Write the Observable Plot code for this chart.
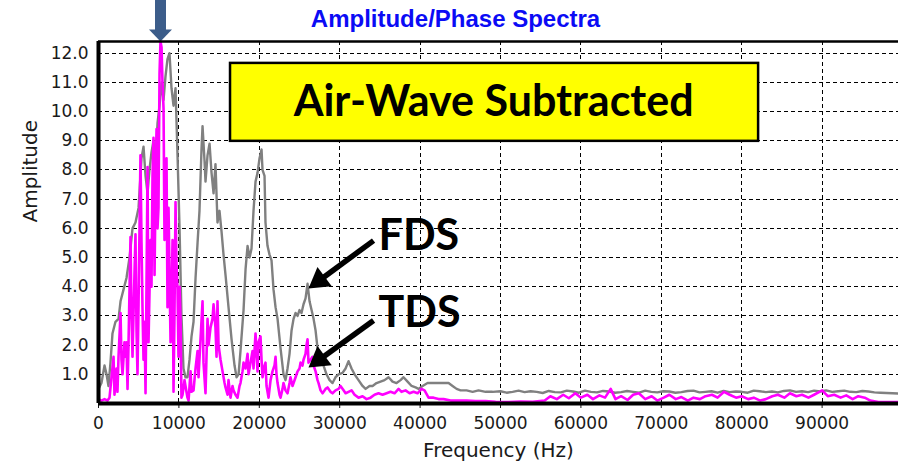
<!DOCTYPE html>
<html>
<head>
<meta charset="utf-8">
<script src="https://cdn.jsdelivr.net/npm/d3@7"></script>
<script src="https://cdn.jsdelivr.net/npm/@observablehq/plot@0.6"></script>
<style>
  html, body { margin: 0; padding: 0; background: #fff; }
  #chart svg { display: block; }
</style>
</head>
<body>
<div id="chart"></div>
<script>
// Axis ticks
const xTicks = [0, 10000, 20000, 30000, 40000, 50000, 60000, 70000, 80000, 90000];
const yTicks = [1, 2, 3, 4, 5, 6, 7, 8, 9, 10, 11, 12];

// FDS spectrum (grey): frequency in Hz, amplitude
const fdsFreq = [
  0, 370, 750, 1000, 1240, 1490, 1740, 2110, 2490, 2740, 3110, 3480, 3860, 4230, 4600, 4980,
  5350, 5600, 5850, 6100, 6340, 6590, 6840, 7090, 7340, 7590, 7840, 8090, 8330, 8580, 8830,
  9080, 9330, 9580, 9830, 10080, 10320, 10570, 10820, 11070, 11320, 11570, 11820, 12070, 12320,
  12560, 12810, 12940, 13190, 13310, 13560, 13810, 14060, 14310, 14550, 14800, 15050, 15300,
  15550, 15800, 16170, 16550, 16920, 17170, 17420, 17660, 18040, 18290, 18540, 18790, 19030,
  19280, 19530, 19780, 20030, 20280, 20400, 20650, 20770, 21020, 21270, 21520, 21770, 22020,
  22270, 22640, 23010, 23260, 23510, 23760, 24010, 24260, 24510, 24760, 25000, 25250, 25500,
  25750, 26000, 26250, 26500, 26750, 27000, 27240, 27620, 27990, 28360, 28740, 29110, 29480,
  29860, 30350, 30730, 31100, 31470, 31850, 32340, 32840, 33220, 33710, 34090, 34580, 35080,
  35580, 36080, 36570, 37070, 37570, 37940, 38440, 38940, 39430, 39810, 40310, 40930, 41550,
  42170, 42790, 43540, 44040, 44540, 45030, 45780, 46530, 47270, 48140, 49010,
  50000, 50750, 51500, 52250, 53000, 53750, 54500, 55250, 56000, 56750, 57500, 58250, 59000,
  59750, 60500, 61250, 62000, 62750, 63500, 64250, 65000, 65750, 66500, 67250, 68000, 68750,
  69500, 70250, 71000, 71750, 72500, 73250, 74000, 74750, 75500, 76250, 77000, 77750, 78500,
  79250, 80000, 80750, 81500, 82250, 83000, 83750, 84500, 85250, 86000, 86750, 87500, 88250,
  89000, 89750, 90500, 91250, 92000, 92750, 93500, 94250, 95000, 95750, 96500, 97250, 98000,
  98750, 99500
];
const fdsAmp = [
  0.5, 0.7, 1.3, 1.0, 0.6, 1.4, 2.4, 2.8, 2.9, 3.5, 3.9, 4.3, 5.0, 6.0, 6.2, 6.7,
  8.4, 8.8, 7.8, 7.2, 8.0, 8.6, 9.0, 8.2, 9.6, 10.2, 11.0, 10.4, 11.2, 11.8, 12.0,
  10.8, 10.2, 10.8, 8.5, 6.0, 3.0, 1.2, 0.9, 0.9, 1.5, 2.3, 2.8, 4.3, 5.5,
  6.6, 8.7, 9.5, 8.3, 7.6, 8.5, 8.9, 7.9, 7.2, 8.2, 6.2, 6.6, 5.9,
  5.1, 4.4, 3.3, 2.2, 1.3, 0.9, 1.0, 1.8, 3.2, 4.6, 5.4, 5.0, 5.3,
  6.6, 7.6, 7.9, 8.4, 8.7, 8.0, 7.8, 6.2, 5.4, 5.1, 4.9, 3.9, 3.3,
  2.9, 1.9, 1.0, 0.8, 1.2, 1.7, 2.5, 2.9, 3.1, 3.0, 3.2, 3.1, 3.4,
  3.6, 4.1, 3.5, 3.2, 2.9, 2.5, 1.9, 1.5, 1.3, 1.0, 0.8, 0.7, 0.9,
  1.0, 1.05, 1.2, 1.45, 1.2, 1.0, 0.8, 0.6, 0.5, 0.6, 0.6, 0.7, 0.75,
  0.8, 0.9, 0.75, 0.7, 0.8, 0.9, 0.75, 0.6, 0.55, 0.5, 0.6, 0.7, 0.7,
  0.7, 0.7, 0.7, 0.6, 0.5, 0.45, 0.45, 0.4, 0.45, 0.4, 0.4,
  0.42, 0.37, 0.40, 0.44, 0.39, 0.42, 0.40, 0.36, 0.43, 0.39, 0.38, 0.44, 0.41,
  0.37, 0.44, 0.40, 0.38, 0.43, 0.41, 0.37, 0.39, 0.43, 0.40, 0.37, 0.44, 0.40,
  0.38, 0.42, 0.41, 0.37, 0.39, 0.43, 0.44, 0.38, 0.40, 0.42, 0.37, 0.43, 0.39,
  0.41, 0.40, 0.37, 0.44, 0.42, 0.39, 0.41, 0.38, 0.43, 0.45, 0.40, 0.42, 0.39,
  0.44, 0.41, 0.45, 0.40, 0.42, 0.44, 0.40, 0.39, 0.43, 0.41, 0.38, 0.37, 0.36,
  0.35, 0.34
];

// TDS spectrum (magenta): frequency in Hz, amplitude
const tdsFreq = [
  0, 370, 750, 1120, 1370, 1620, 1870, 1990, 2240, 2360, 2490, 2740, 2860, 2990, 3230, 3360,
  3480, 3610, 3730, 3980, 4110, 4230, 4480, 4600, 4730, 4850, 4980, 5220, 5350, 5470, 5600,
  5720, 5850, 5970, 6100, 6220, 6470, 6590, 6720, 6840, 6970, 7090, 7220, 7340, 7460, 7590,
  7710, 7840, 7960, 8090, 8210, 8330, 8460, 8580, 8710, 8830, 8960, 9080, 9210, 9330, 9450,
  9580, 9700, 9830, 9950, 10080, 10200, 10320, 10450, 10700, 10820, 11070, 11200, 11450, 11570,
  11820, 12070, 12320, 12440, 12690, 12940, 13060, 13310, 13560, 13690, 13930, 14180, 14310,
  14550, 14680, 14800, 14930, 15180, 15430, 15680, 15800, 16050, 16170, 16420, 16670, 16790,
  17040, 17290, 17540, 17660, 17910, 18040, 18290, 18540, 18660, 18910, 19160, 19280, 19530,
  19780, 19900, 20150, 20280, 20400, 20650, 20770, 20900, 21150, 21400, 21640, 21890, 22020,
  22140, 22270, 22520, 22640, 22890, 23010, 23260, 23510, 23760, 23880, 24130, 24260, 24510,
  24760, 25000, 25130, 25370, 25500, 25750, 25870, 26000, 26120, 26370, 26620, 26750, 27000,
  27240, 27370, 27620, 27870, 28240, 28490, 28860, 29110, 29480, 29860, 30100, 30480, 30730,
  31100, 31470, 31850, 32340, 32840, 33340, 33840, 34330, 34830, 35330, 35830, 36320, 36820,
  37320, 37690, 38190, 38690, 39190, 39680, 40180, 40550, 41050, 41670, 42300, 42920, 43790,
  44780, 45780, 46900, 48140, 49390,
  51000, 52500, 54000, 55500, 56200, 57000, 57800, 58500, 59300, 60000, 60800, 61500, 62300,
  63000, 63700, 64300, 65000, 65800, 66500, 67200, 68000, 68800, 69500, 70300, 71000, 71800,
  72500, 73300, 74000, 74800, 75500, 76300, 77000, 77800, 78500, 79300, 80000, 80800, 81500,
  82300, 83000, 83800, 84500, 85300, 86000, 86800, 87500, 88300, 89000, 90000, 90700, 91500,
  92300, 93000, 93800, 94500, 95300, 96000, 97000, 98500, 99500
];
const tdsAmp = [
  0.15, 0.1, 0.15, 0.1, 0.2, 0.9, 1.6, 0.3, 1.2, 0.4, 1.6, 3.1, 1.5, 1.0, 2.1, 1.6,
  2.1, 0.5, 2.0, 5.7, 3.0, 1.6, 4.5, 5.8, 2.5, 1.0, 3.4, 8.5, 5.5, 3.3, 1.5,
  2.8, 0.35, 4.0, 8.1, 2.1, 5.6, 4.0, 7.8, 9.1, 4.4, 7.2, 9.4, 6.0, 6.7, 11.3,
  12.4, 12.2, 11.0, 10.1, 5.6, 6.2, 8.4, 3.3, 6.7, 4.5, 2.1, 3.5, 5.6, 0.4, 3.0,
  6.9, 4.8, 3.9, 1.6, 4.0, 2.9, 0.2, 0.3, 0.8, 0.6, 0.2, 0.1, 1.1, 0.4,
  0.45, 1.2, 1.8, 0.9, 2.2, 3.5, 1.4, 0.35, 2.9, 2.0, 2.6, 2.9, 3.4,
  2.6, 1.6, 3.5, 2.0, 1.5, 1.1, 0.7, 0.55, 0.3, 0.8, 0.2, 0.6, 0.45,
  0.3, 0.2, 0.6, 0.7, 1.1, 1.4, 1.2, 1.7, 1.0, 1.4, 1.8, 1.2, 2.4,
  1.1, 2.1, 2.3, 1.5, 0.9, 1.3, 1.4, 0.6, 0.2, 0.8, 1.1, 1.3, 1.6,
  1.0, 0.7, 0.3, 0.2, 0.5, 0.7, 0.45, 0.35, 0.7, 0.9, 0.6, 0.7, 0.9,
  1.1, 1.2, 1.4, 1.3, 1.5, 1.7, 2.0, 2.2, 1.4, 1.5, 1.6, 1.3, 1.1,
  0.8, 0.7, 0.45, 0.35, 0.5, 0.55, 0.4, 0.35, 0.45, 0.5, 0.6, 0.45, 0.35,
  0.4, 0.45, 0.3, 0.2, 0.25, 0.15, 0.2, 0.3, 0.35, 0.3, 0.35, 0.4, 0.35,
  0.5, 0.4, 0.45, 0.35, 0.4, 0.35, 0.5, 0.45, 0.2, 0.2, 0.15, 0.15, 0.1,
  0.1, 0.1, 0.08, 0.08, 0.06,
  0.05, 0.07, 0.06, 0.1, 0.25, 0.15, 0.3, 0.18, 0.35, 0.2, 0.3, 0.15, 0.28,
  0.2, 0.5, 0.15, 0.25, 0.12, 0.3, 0.35, 0.15, 0.25, 0.1, 0.2, 0.3, 0.15,
  0.22, 0.1, 0.2, 0.15, 0.25, 0.3, 0.2, 0.4, 0.3, 0.2, 0.25, 0.15, 0.2,
  0.1, 0.15, 0.25, 0.3, 0.2, 0.35, 0.25, 0.3, 0.2, 0.3, 0.45, 0.25, 0.3,
  0.2, 0.28, 0.15, 0.25, 0.2, 0.1, 0.05, 0.05, 0.05
];

const fds = fdsFreq.map((f, i) => ({f, a: fdsAmp[i]}));
const tds = tdsFreq.map((f, i) => ({f, a: tdsAmp[i]}));

// Filled arrowhead symbol with its tip at the origin, pointing along (ux, uy)
function arrowHead(ux, uy, length, width) {
  const n = Math.hypot(ux, uy);
  const dx = ux / n, dy = uy / n;
  const bx = -dx * length, by = -dy * length;
  const px = -dy * width / 2, py = dx * width / 2;
  return {
    draw(context) {
      context.moveTo(0, 0);
      context.lineTo(bx + px, by + py);
      context.lineTo(bx - px, by - py);
      context.closePath();
    }
  };
}

const peakMarker = arrowHead(0, 1, 12, 23);
const labelHead = arrowHead(-65, 48, 20, 24);

const callouts = [
  {text: "FDS", tx: 34830, ty: 5.72, x1: 34210, y1: 5.58, x2: 27930, y2: 4.31, tipX: 26120, tipY: 3.94},
  {text: "TDS", tx: 34830, ty: 3.08, x1: 34210, y1: 2.84, x2: 27940, y2: 1.59, tipX: 26120, tipY: 1.23}
];
const banner = {x1: 16420, x2: 82100, y1: 8.98, y2: 11.65, cx: 49140, cy: 10.31, text: "Air-Wave Subtracted"};
const peak = {f: 7710, top: 13.9, base: 12.76, tip: 12.4};

const gridStyle = {stroke: "#000", strokeWidth: 1, strokeDasharray: "4,3", shapeRendering: "crispEdges"};

const chart = Plot.plot({
  width: 898,
  height: 466,
  marginLeft: 98,
  marginRight: 0,
  marginTop: 41,
  marginBottom: 63,
  style: {fontFamily: "DejaVu Sans, sans-serif", fontSize: "17px", color: "#1a1a1a", background: "#fff"},
  x: {domain: [0, 99500], ticks: xTicks, tickFormat: d => String(d), tickSize: 5, tickPadding: 8, label: null},
  y: {domain: [0, 12.4], ticks: yTicks, tickFormat: d => d.toFixed(1), tickSize: 0, tickPadding: 10, label: null},
  marks: [
    // dashed grid
    Plot.ruleX(xTicks.slice(1), {x: d => d, ...gridStyle}),
    Plot.ruleY(yTicks, {y: d => d, ...gridStyle}),
    // spectra
    Plot.line(fds, {x: "f", y: "a", stroke: "#808080", strokeWidth: 2.4}),
    Plot.line(tds, {x: "f", y: "a", stroke: "#ff00ff", strokeWidth: 2.6}),
    // banner
    Plot.rect([banner], {x1: "x1", x2: "x2", y1: "y1", y2: "y2", fill: "#ffff00", stroke: "#000", strokeWidth: 2.5}),
    Plot.text([banner], {x: "cx", y: "cy", text: "text", fontFamily: "Lato, sans-serif", fontWeight: "bold", fontSize: 43, fill: "#000"}),
    // callouts
    Plot.link(callouts, {x1: "x1", y1: "y1", x2: "x2", y2: "y2", stroke: "#000", strokeWidth: 5.5}),
    Plot.dot(callouts, {x: "tipX", y: "tipY", symbol: labelHead, fill: "#000", stroke: "none", r: 8}),
    Plot.text(callouts, {x: "tx", y: "ty", text: "text", textAnchor: "start", fontFamily: "Lato, sans-serif", fontWeight: "bold", fontSize: 43, fill: "#000"}),
    // marker over the main peak
    Plot.link([peak], {x1: "f", x2: "f", y1: "top", y2: "base", stroke: "#3c5d8a", strokeWidth: 11}),
    Plot.dot([peak], {x: "f", y: "tip", symbol: peakMarker, fill: "#3c5d8a", stroke: "none", r: 8}),
    // frame
    Plot.ruleY([12.4], {stroke: "#000", strokeWidth: 2.5}),
    Plot.ruleY([0], {stroke: "#000", strokeWidth: 4}),
    Plot.ruleX([0], {stroke: "#000", strokeWidth: 4, y1: 0, y2: 12.4}),
    // titles
    Plot.text(["Amplitude/Phase Spectra"], {frameAnchor: "top", dx: -43, dy: -32, fontFamily: "Liberation Sans, Arial, sans-serif", fontWeight: "bold", fontSize: 24, fill: "#0b0bf5", letterSpacing: "0.4px"}),
    Plot.text(["Frequency (Hz)"], {frameAnchor: "bottom", dy: 53, fontSize: 20, fill: "#1a1a1a"}),
    Plot.text(["Amplitude"], {frameAnchor: "left", dx: -68, rotate: -90, fontSize: 20, fill: "#1a1a1a"})
  ]
});

document.getElementById("chart").appendChild(chart);
</script>
</body>
</html>
